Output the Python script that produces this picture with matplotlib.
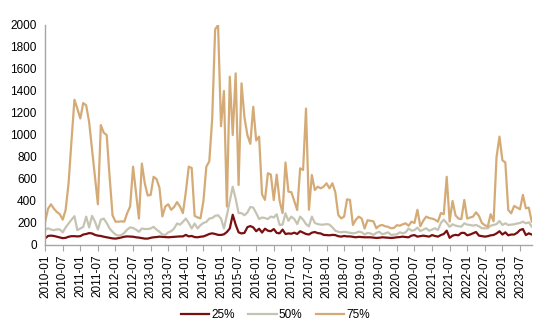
import matplotlib
matplotlib.use("Agg")
import matplotlib.pyplot as plt
import pandas as pd

plt.rcParams["font.family"] = ["Liberation Sans", "DejaVu Sans"]

# monthly categories 2010-01 .. 2023-11
months = [p.strftime("%Y-%m") for p in pd.period_range("2010-01", "2023-11", freq="M")]

p25 = [
    60, 82, 85, 82, 75, 68, 62, 65, 75, 80,
    80, 78, 80, 95, 100, 108, 105, 92, 85, 82,
    75, 70, 65, 60, 58, 62, 68, 75, 78, 76,
    75, 70, 67, 62, 58, 58, 65, 70, 72, 76,
    74, 72, 70, 72, 75, 76, 78, 78, 92, 78,
    82, 72, 70, 75, 78, 88, 100, 106, 100, 92,
    91, 97, 118, 150, 275, 185, 115, 105, 110, 162,
    172, 160, 125, 148, 113, 148, 130, 125, 145, 110,
    106, 140, 100, 105, 102, 112, 100, 125, 112, 100,
    95, 112, 118, 108, 105, 92, 90, 88, 92, 90,
    80, 76, 82, 78, 78, 74, 70, 74, 72, 70,
    70, 70, 67, 64, 66, 70, 68, 66, 64, 66,
    70, 72, 76, 72, 70, 85, 90, 76, 80, 85,
    80, 76, 90, 82, 76, 90, 100, 130, 65, 85,
    92, 88, 110, 110, 88, 95, 106, 118, 85, 80,
    76, 80, 88, 91, 105, 125, 95, 115, 88, 95,
    95, 110, 136, 145, 90, 106, 95,
]

p50 = [
    136, 152, 140, 135, 142, 142, 115, 160, 195, 230,
    262, 135, 150, 165, 258, 160, 265, 212, 140, 230,
    240, 200, 150, 120, 95, 85, 90, 110, 140, 160,
    155, 140, 120, 150, 145, 145, 150, 165, 140, 120,
    95, 92, 115, 125, 150, 195, 185, 210, 240, 200,
    150, 195, 150, 180, 200, 210, 240, 245, 265, 270,
    240, 150, 270, 400, 530, 420, 290, 290, 270, 295,
    345, 340, 290, 236, 250, 245, 236, 258, 250, 279,
    182, 185, 288, 220, 258, 236, 190, 258, 230, 190,
    170, 258, 200, 190, 185, 185, 190, 185, 160, 130,
    120, 115, 120, 115, 110, 106, 110, 121, 115, 95,
    110, 105, 92, 110, 120, 98, 105, 115, 92, 95,
    97, 115, 106, 115, 150, 130, 135, 158, 127, 140,
    152, 130, 140, 152, 136, 200, 230, 200, 165, 188,
    176, 170, 167, 197, 185, 182, 176, 182, 170, 152,
    152, 152, 176, 182, 190, 218, 182, 197, 182, 185,
    188, 195, 200, 212, 197, 206, 167,
]

p75 = [
    210, 330, 370, 330, 300, 280, 230, 320, 560, 950,
    1320, 1240, 1150, 1290, 1270, 1120, 870, 620, 370, 1090,
    1020, 1000, 620, 270, 212, 212, 215, 212, 290, 350,
    712, 480, 240, 740, 560, 450, 455, 620, 600, 520,
    260, 350, 370, 320, 345, 390, 350, 290, 480, 712,
    700, 265, 250, 242, 400, 712, 760, 1150, 1960, 2000,
    1080, 1400, 350, 1530, 1000, 1560, 545, 1470, 1160, 1000,
    920, 1257, 950, 985, 460, 410, 652, 640, 409, 640,
    400, 290, 750, 485, 480, 400, 318, 697, 682, 1240,
    320, 636, 500, 530, 515, 530, 561, 515, 561, 480,
    273, 242, 258, 415, 409, 182, 230, 258, 240, 150,
    225, 220, 215, 152, 175, 182, 170, 165, 152, 155,
    180, 175, 188, 197, 175, 212, 200, 320, 170, 220,
    258, 245, 240, 230, 212, 290, 280, 620, 212, 400,
    270, 240, 236, 409, 240, 250, 258, 297, 264, 200,
    180, 167, 280, 215, 800, 985, 770, 750, 318, 288,
    355, 340, 325, 455, 333, 340, 212,
]

series = [("25%", p25, "#7a0f10"), ("50%", p50, "#c5c4b2"), ("75%", p75, "#d4ab76")]

fig = plt.figure(figsize=(5.51, 3.35), dpi=100)
ax = fig.add_axes([0.0819, 0.2687, 0.8831, 0.6567])

x = list(range(len(months)))
for label, values, color in series:
    ax.plot(x, values, color=color, linewidth=1.6, label=label, solid_joinstyle="round")

ax.set_xlim(0, len(months) - 1)
ax.set_ylim(0, 2000)
ax.set_yticks(range(0, 2001, 200))
ax.set_xticks(x[::6])
ax.set_xticklabels(months[::6], rotation=90)

for side in ("top", "right"):
    ax.spines[side].set_visible(False)
for side in ("left", "bottom"):
    ax.spines[side].set_color("#a6a6a6")
    ax.spines[side].set_linewidth(1.0)

ax.tick_params(axis="y", length=0, labelsize=8.5, pad=6)
ax.tick_params(axis="x", length=4, color="#a6a6a6", labelsize=8.5, pad=3)

fig.legend(loc="center", bbox_to_anchor=(0.5, 0.06), ncol=3, frameon=False,
           fontsize=8.5, handlelength=2.4, handletextpad=0.2, columnspacing=1.1)

fig.savefig("out.png", dpi=100)
